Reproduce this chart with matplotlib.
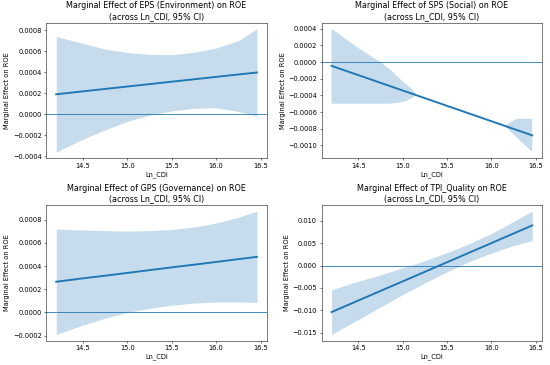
import numpy as np
import matplotlib
matplotlib.use("Agg")
import matplotlib.pyplot as plt

# values
x_grid = [14.20, 14.50, 14.75, 15.00, 15.25, 15.50, 15.75, 16.00, 16.25, 16.46]

eps_me = [0.000189, 0.000217, 0.000240, 0.000263, 0.000286, 0.000309, 0.000332, 0.000355, 0.000378, 0.000397]
eps_hi = [0.000740, 0.000675, 0.000620, 0.000588, 0.000570, 0.000567, 0.000590, 0.000630, 0.000700, 0.000814]
eps_lo = [-0.000362, -0.000240, -0.000150, -0.000070, -0.000010, 0.000030, 0.000055, 0.000060, 0.000025, -0.000018]

sps_x = [14.20, 16.46]
sps_me = [-0.000045, -0.000880]
sps_band_x = [14.20, 14.50, 14.75, 14.85, 15.00, 15.10, 15.16, 15.60,
              16.16, 16.20, 16.25, 16.30, 16.35, 16.46]
sps_hi = [0.00040, 0.00017, 0.00000, -0.00008, -0.00023, -0.00032, -0.00039, np.nan,
          -0.00077, -0.00073, -0.00070, -0.00068, -0.00068, -0.00068]
sps_lo = [-0.00050, -0.00050, -0.00050, -0.00050, -0.00048, -0.00044, -0.00039, np.nan,
          -0.00077, -0.00082, -0.00087, -0.00092, -0.00097, -0.00108]

gps_me = [0.000265, 0.000294, 0.000317, 0.000341, 0.000365, 0.000389, 0.000412, 0.000436, 0.000460, 0.000480]
gps_hi = [0.000720, 0.000712, 0.000706, 0.000703, 0.000706, 0.000716, 0.000738, 0.000772, 0.000822, 0.000875]
gps_lo = [-0.000190, -0.000110, -0.000050, 0.000000, 0.000035, 0.000062, 0.000080, 0.000090, 0.000090, 0.000085]

tpi_me = [-0.01040, -0.00783, -0.00568, -0.00354, -0.00139, 0.00075, 0.00290, 0.00504, 0.00719, 0.00900]
tpi_hi = [-0.0054, -0.0035, -0.0021, -0.0005, 0.0011, 0.0029, 0.0049, 0.0072, 0.0099, 0.0122]
tpi_lo = [-0.0154, -0.0121, -0.0093, -0.0065, -0.0039, -0.0014, 0.0009, 0.0028, 0.0045, 0.0056]

titles = ["Marginal Effect of EPS (Environment) on ROE\n(across Ln_CDI, 95% CI)",
          "Marginal Effect of SPS (Social) on ROE\n(across Ln_CDI, 95% CI)",
          "Marginal Effect of GPS (Governance) on ROE\n(across Ln_CDI, 95% CI)",
          "Marginal Effect of TPI_Quality on ROE\n(across Ln_CDI, 95% CI)"]

fig, axes = plt.subplots(2, 2, figsize=(12, 7.964), dpi=550 / 12)
fig.subplots_adjust(left=0.084, right=0.986, bottom=0.067, top=0.938,
                    wspace=0.247, hspace=0.345)

panels = [
    (x_grid, eps_me, x_grid, eps_lo, eps_hi),
    (sps_x, sps_me, sps_band_x, sps_lo, sps_hi),
    (x_grid, gps_me, x_grid, gps_lo, gps_hi),
    (x_grid, tpi_me, x_grid, tpi_lo, tpi_hi),
]

for ax, (xl, me, xb, lo, hi), title in zip(axes.flat, panels, titles):
    ax.plot(xl, me, color="C0", lw=3)
    ax.fill_between(xb, lo, hi, color="C0", alpha=0.25, lw=0)
    ax.axhline(0, color="C0", lw=1.3)
    ax.set_title(title, fontsize=12.5)
    ax.set_xlabel("Ln_CDI", fontsize=10.5)
    ax.set_ylabel("Marginal Effect on ROE", fontsize=10.5)
    ax.tick_params(labelsize=10.5)
    ax.set_xticks([14.5, 15.0, 15.5, 16.0, 16.5])

fig.savefig("out.png", dpi=550 / 12)
